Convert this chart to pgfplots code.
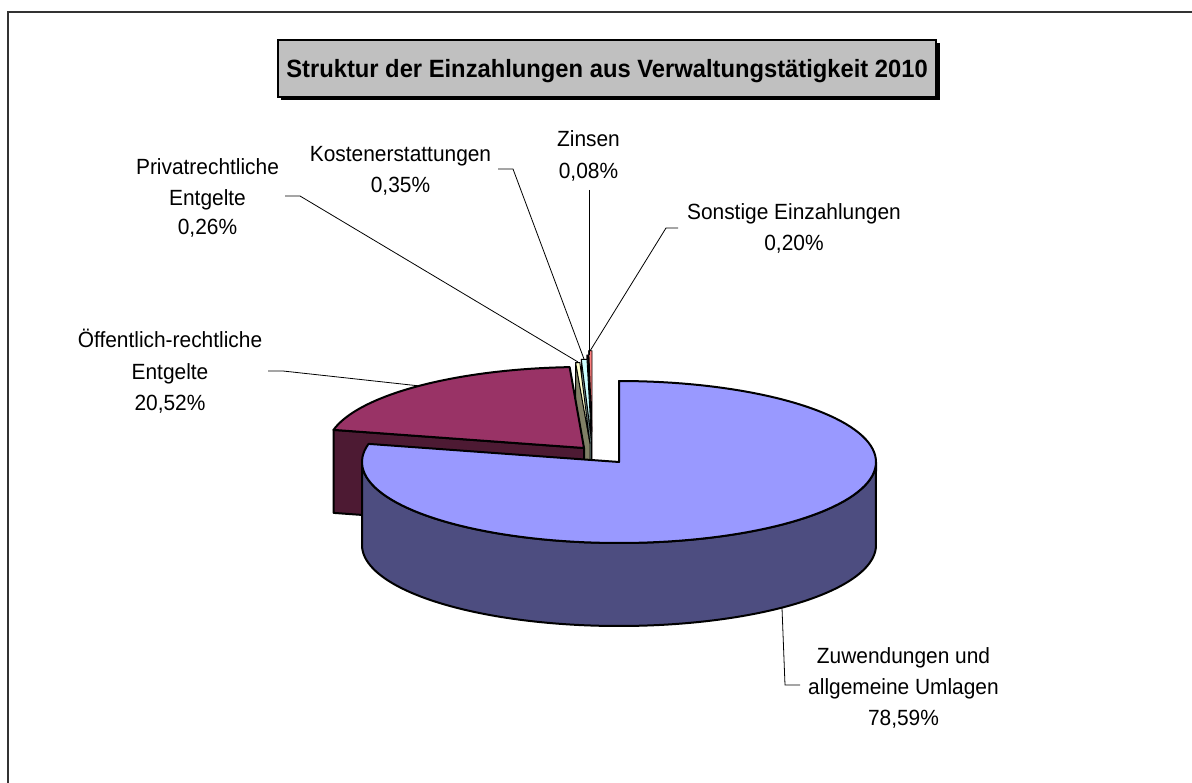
\documentclass[border=0pt]{standalone}
\usepackage{fontspec}
\setmainfont{Liberation Sans}[FakeStretch=0.95]
\usepackage{pgfplots}
\pgfplotsset{compat=1.18}
\definecolor{btop}{HTML}{9999FF}
\definecolor{bside}{HTML}{4D4D80}
\definecolor{mtop}{HTML}{993366}
\definecolor{mside}{HTML}{4D1A33}
\definecolor{ptop}{HTML}{FFFFCC}
\definecolor{pside}{HTML}{808066}
\definecolor{ktop}{HTML}{CCFFFF}
\definecolor{kside}{HTML}{668080}
\definecolor{ztop}{HTML}{660066}
\definecolor{zside}{HTML}{330033}
\definecolor{stop}{HTML}{FF8080}
\definecolor{sside}{HTML}{804040}
\definecolor{tgray}{HTML}{C0C0C0}
\definecolor{framec}{HTML}{333333}
% shares in percent
\def\vZuw{78.59}\def\vOef{20.52}\def\vPri{0.26}\def\vKos{0.35}\def\vZin{0.08}\def\vSon{0.20}
\pgfmathsetmacro\aA{90-3.6*\vZuw}
\pgfmathsetmacro\aB{\aA-3.6*\vOef}
\pgfmathsetmacro\aC{\aB-3.6*\vPri}
\pgfmathsetmacro\aD{\aC-3.6*\vKos}
\pgfmathsetmacro\aE{\aD-3.6*\vZin}
\pgfmathsetmacro\aF{\aE-3.6*\vSon}
\def\Rx{257}\def\Ry{81}\def\Dz{83}
\newcommand\pieTop[6]{% cx cy a1 a2 color width
  \addplot[fill=#5, draw=black, line width=#6, line join=round, domain=#3:#4, samples=120]
    ({#1+\Rx*cos(x)},{#2-\Ry*sin(x)}) -- (axis cs:#1,#2) -- cycle;}
\newcommand\pieFace[5]{% cx cy angle color width
  \addplot[fill=#4, draw=black, line width=#5, line join=round, samples at={0,1,2,3}]
    ({#1+\Rx*cos(#3)*((x<0.5)+(x>2.5))},{#2-\Ry*sin(#3)*((x<0.5)+(x>2.5))+\Dz*(x>1.5)}) -- cycle;}
\newcommand\lfont{\fontsize{22}{26}\selectfont}
\newcommand\lab[3]{\node[anchor=base, inner sep=0pt, font=\lfont] at (axis cs:#1,#2) {#3};}
\begin{document}
\begin{tikzpicture}
\begin{axis}[scale only axis, width=1192pt, height=783pt,
  xmin=0, xmax=1192, ymin=0, ymax=783, y dir=reverse,
  hide axis, clip=false,
  declare function={thb(\t)=(\t<=1)*(180+180*\t)+(\t>1)*(540-180*\t);}]
% outer frame
\draw[framec, line width=2pt] (axis cs:7.5,783) -- (axis cs:7.5,12) -- (axis cs:1192,12);
% title box
\fill[black] (axis cs:281,43) rectangle (axis cs:939.5,100.5);
\filldraw[fill=tgray, draw=black, line width=1.5pt] (axis cs:278,40) rectangle (axis cs:936,97);
\node[anchor=base, inner sep=0pt, font=\fontsize{25}{30}\selectfont\bfseries] at (axis cs:607,78) {Struktur der Einzahlungen aus Verwaltungstätigkeit 2010};
% small slices (exploded)
\pieFace{592}{431.7}{\aE}{sside}{0.9pt}
\pieTop{592}{431.7}{\aF}{\aE}{stop}{0.9pt}
\pieFace{591.5}{436}{\aD}{zside}{0.9pt}
\pieTop{591.5}{436}{\aE}{\aD}{ztop}{0.9pt}
\pieFace{591.5}{440.3}{\aC}{kside}{0.9pt}
\pieTop{591.5}{440.3}{\aD}{\aC}{ktop}{0.9pt}
\pieFace{590}{443.5}{\aB}{pside}{0.9pt}
\pieTop{590}{443.5}{\aC}{\aB}{ptop}{0.9pt}
% Oeffentlich-rechtliche Entgelte
\pieFace{584}{448}{\aA}{mside}{2pt}
\pieTop{584}{448}{\aB}{\aA}{mtop}{2pt}
% Zuwendungen und allgemeine Umlagen
\addplot[fill=bside, draw=black, line width=2pt, line join=round, domain=0:2, samples=361]
  ({619+\Rx*cos(thb(x))},{462-\Ry*sin(thb(x))+\Dz*(x>1)}) -- cycle;
\pieTop{619}{462}{\aA}{90}{btop}{2pt}
% leader lines
\addplot[black, line width=0.8pt] coordinates {(285,196) (300,196) (578,362)};
\addplot[black, line width=0.8pt] coordinates {(498,169) (513,169) (584,359)};
\addplot[black, line width=0.8pt] coordinates {(589,190) (589,355)};
\addplot[black, line width=0.8pt] coordinates {(678,228) (666,228) (590,351)};
\addplot[black, line width=0.8pt] coordinates {(268,371) (283,371) (420,386)};
\addplot[black, line width=0.8pt] coordinates {(782,608) (785,685) (800,685)};
% labels
\lab{207.5}{175}{Privatrechtliche}
\lab{207.5}{205.5}{Entgelte}
\lab{207.5}{235}{0,26\%}
\lab{400.5}{161.7}{Kostenerstattungen}
\lab{400.5}{193}{0,35\%}
\lab{588.5}{146.7}{Zinsen}
\lab{588.5}{178.3}{0,08\%}
\lab{794}{220}{Sonstige Einzahlungen}
\lab{794}{250.5}{0,20\%}
\lab{170}{348}{Öffentlich-rechtliche}
\lab{170}{379.5}{Entgelte}
\lab{170}{411}{20,52\%}
\lab{903.5}{663}{Zuwendungen und}
\lab{903.5}{694}{allgemeine Umlagen}
\lab{903.5}{725}{78,59\%}
\end{axis}
\pgfresetboundingbox
\useasboundingbox (0,0) rectangle (1192pt,783pt);
\end{tikzpicture}
\end{document}
